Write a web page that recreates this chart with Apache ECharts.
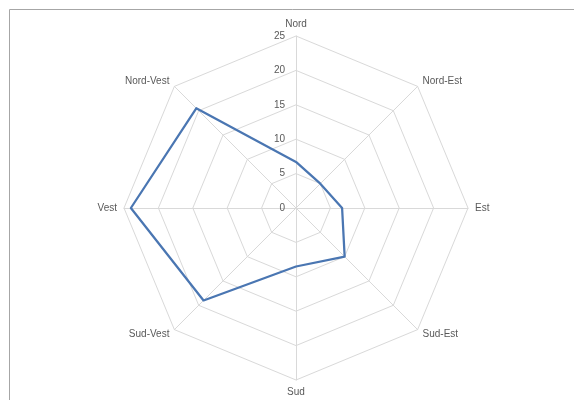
<!DOCTYPE html>
<html>
<head>
<meta charset="utf-8">
<script src="https://cdn.jsdelivr.net/npm/echarts@6/dist/echarts.min.js"></script>
<style>
  html, body { margin: 0; padding: 0; background: #ffffff; }
  #chart { width: 574px; height: 400px; }
</style>
</head>
<body>
<div id="chart"></div>
<script>
// Wind directions (clockwise from north)
const directions = ['Nord', 'Nord-Est', 'Est', 'Sud-Est', 'Sud', 'Sud-Vest', 'Vest', 'Nord-Vest'];
// Value per direction
const values = [6.7, 5, 6.7, 10, 8.5, 19, 24, 20.5];
// Scale of the rings
const scaleMax = 25;
const splitCount = 5;

const chart = echarts.init(document.getElementById('chart'), null, { renderer: 'canvas' });

const gridColor = '#d9d9d9';
const textColor = '#595959';
const fontFamily = '"Liberation Sans", Arial, sans-serif';

// ECharts lays radar axes out counter-clockwise; feed them north first,
// then in reverse so the compass reads clockwise.
const order = directions.map(function (_, i) { return i === 0 ? 0 : directions.length - i; });

const indicators = order.map(function (idx, pos) {
  const ind = { name: directions[idx], min: 0, max: scaleMax };
  // value labels only along the north axis
  if (pos === 0) {
    ind.axisLabel = { show: true };
  }
  return ind;
});
const orderedValues = order.map(function (idx) { return values[idx]; });

chart.setOption({
  backgroundColor: '#ffffff',
  animation: false,
  graphic: [{
    type: 'rect',
    shape: { x: 9.5, y: 9.5, width: 700, height: 500 },
    style: { fill: 'none', stroke: '#a6a6a6', lineWidth: 1 },
    silent: true
  }],
  radar: {
    center: [296, 208],
    radius: 172,
    startAngle: 90,
    shape: 'polygon',
    splitNumber: splitCount,
    nameGap: 7,
    axisName: {
      color: textColor,
      fontSize: 10,
      fontFamily: fontFamily
    },
    axisLine: { lineStyle: { color: gridColor, width: 1 } },
    splitLine: { lineStyle: { color: gridColor, width: 1 } },
    splitArea: { show: false },
    axisTick: { show: false },
    axisLabel: {
      show: false,
      color: textColor,
      fontSize: 10,
      fontFamily: fontFamily,
      margin: 11
    },
    indicator: indicators
  },
  series: [{
    type: 'radar',
    symbol: 'none',
    lineStyle: { color: '#4a76b2', width: 2.25 },
    itemStyle: { color: '#4a76b2' },
    data: [{ value: orderedValues, name: 'Frequenza' }]
  }]
});
</script>
</body>
</html>
